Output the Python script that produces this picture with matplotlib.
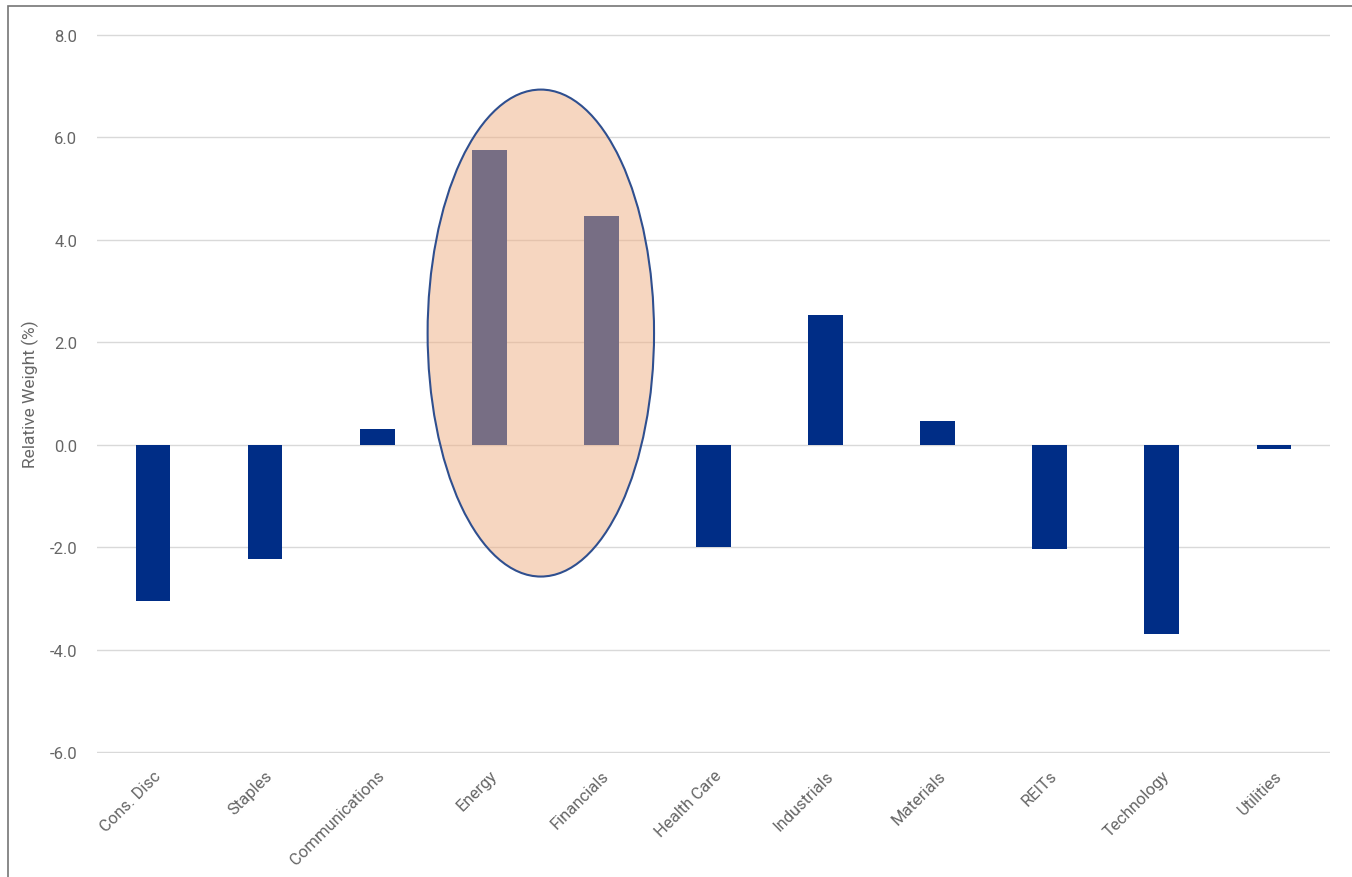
import matplotlib.pyplot as plt
from matplotlib.patches import Ellipse, Rectangle

# Sector relative weights (%)
sectors = ["Cons. Disc", "Staples", "Communications", "Energy", "Financials",
           "Health Care", "Industrials", "Materials", "REITs", "Technology", "Utilities"]
weights = [-3.05, -2.23, 0.31, 5.76, 4.47, -1.99, 2.54, 0.47, -2.03, -3.69, -0.08]
yticks = [-6.0, -4.0, -2.0, 0.0, 2.0, 4.0, 6.0, 8.0]

plt.rcParams['font.family'] = ['Liberation Sans Narrow', 'Roboto', 'DejaVu Sans']

fig = plt.figure(figsize=(13.52, 8.78), dpi=100)
ax = fig.add_axes([0.0717, 0.1407, 0.912, 0.820])

x = list(range(len(sectors)))
ax.bar(x, weights, width=0.31, color='#002D86', zorder=2)

# Highlight Energy and Financials
ell = Ellipse((3.46, 2.18), width=2.02, height=9.51, facecolor='#EFAF83',
              alpha=0.5, edgecolor='none', zorder=3)
ax.add_patch(ell)
ell_edge = Ellipse((3.46, 2.18), width=2.02, height=9.51, facecolor='none',
                   edgecolor='#2F4F8F', linewidth=1.5, zorder=4)
ax.add_patch(ell_edge)

ax.set_xlim(-0.5, len(sectors) - 0.5)
ax.set_ylim(-6.03, 8.03)
ax.set_yticks(yticks)
ax.set_yticklabels([f"{v:.1f}" for v in yticks], fontsize=12, color='#666666',
                   family=['Roboto', 'DejaVu Sans'])
ax.set_xticks(x)
ax.set_xticklabels(sectors, rotation=45, ha='right', rotation_mode='anchor',
                   fontsize=12, color='#666666')
ax.tick_params(axis='both', length=0, pad=14)
ax.tick_params(axis='x', pad=10)
ax.grid(axis='y', color='#D9D9D9', linewidth=1, zorder=0)
ax.set_axisbelow(True)
for s in ax.spines.values():
    s.set_visible(False)

ax.set_ylabel("Relative Weight (%)", fontsize=12.5, color='#666666', labelpad=8)

# Outer frame
fig.patches.append(Rectangle((8 / 1352, -0.05), 1.1, 1.05 - 7 / 878, transform=fig.transFigure,
                             fill=False, edgecolor='#767676', linewidth=1.2))

fig.savefig("out.png", dpi=100)
